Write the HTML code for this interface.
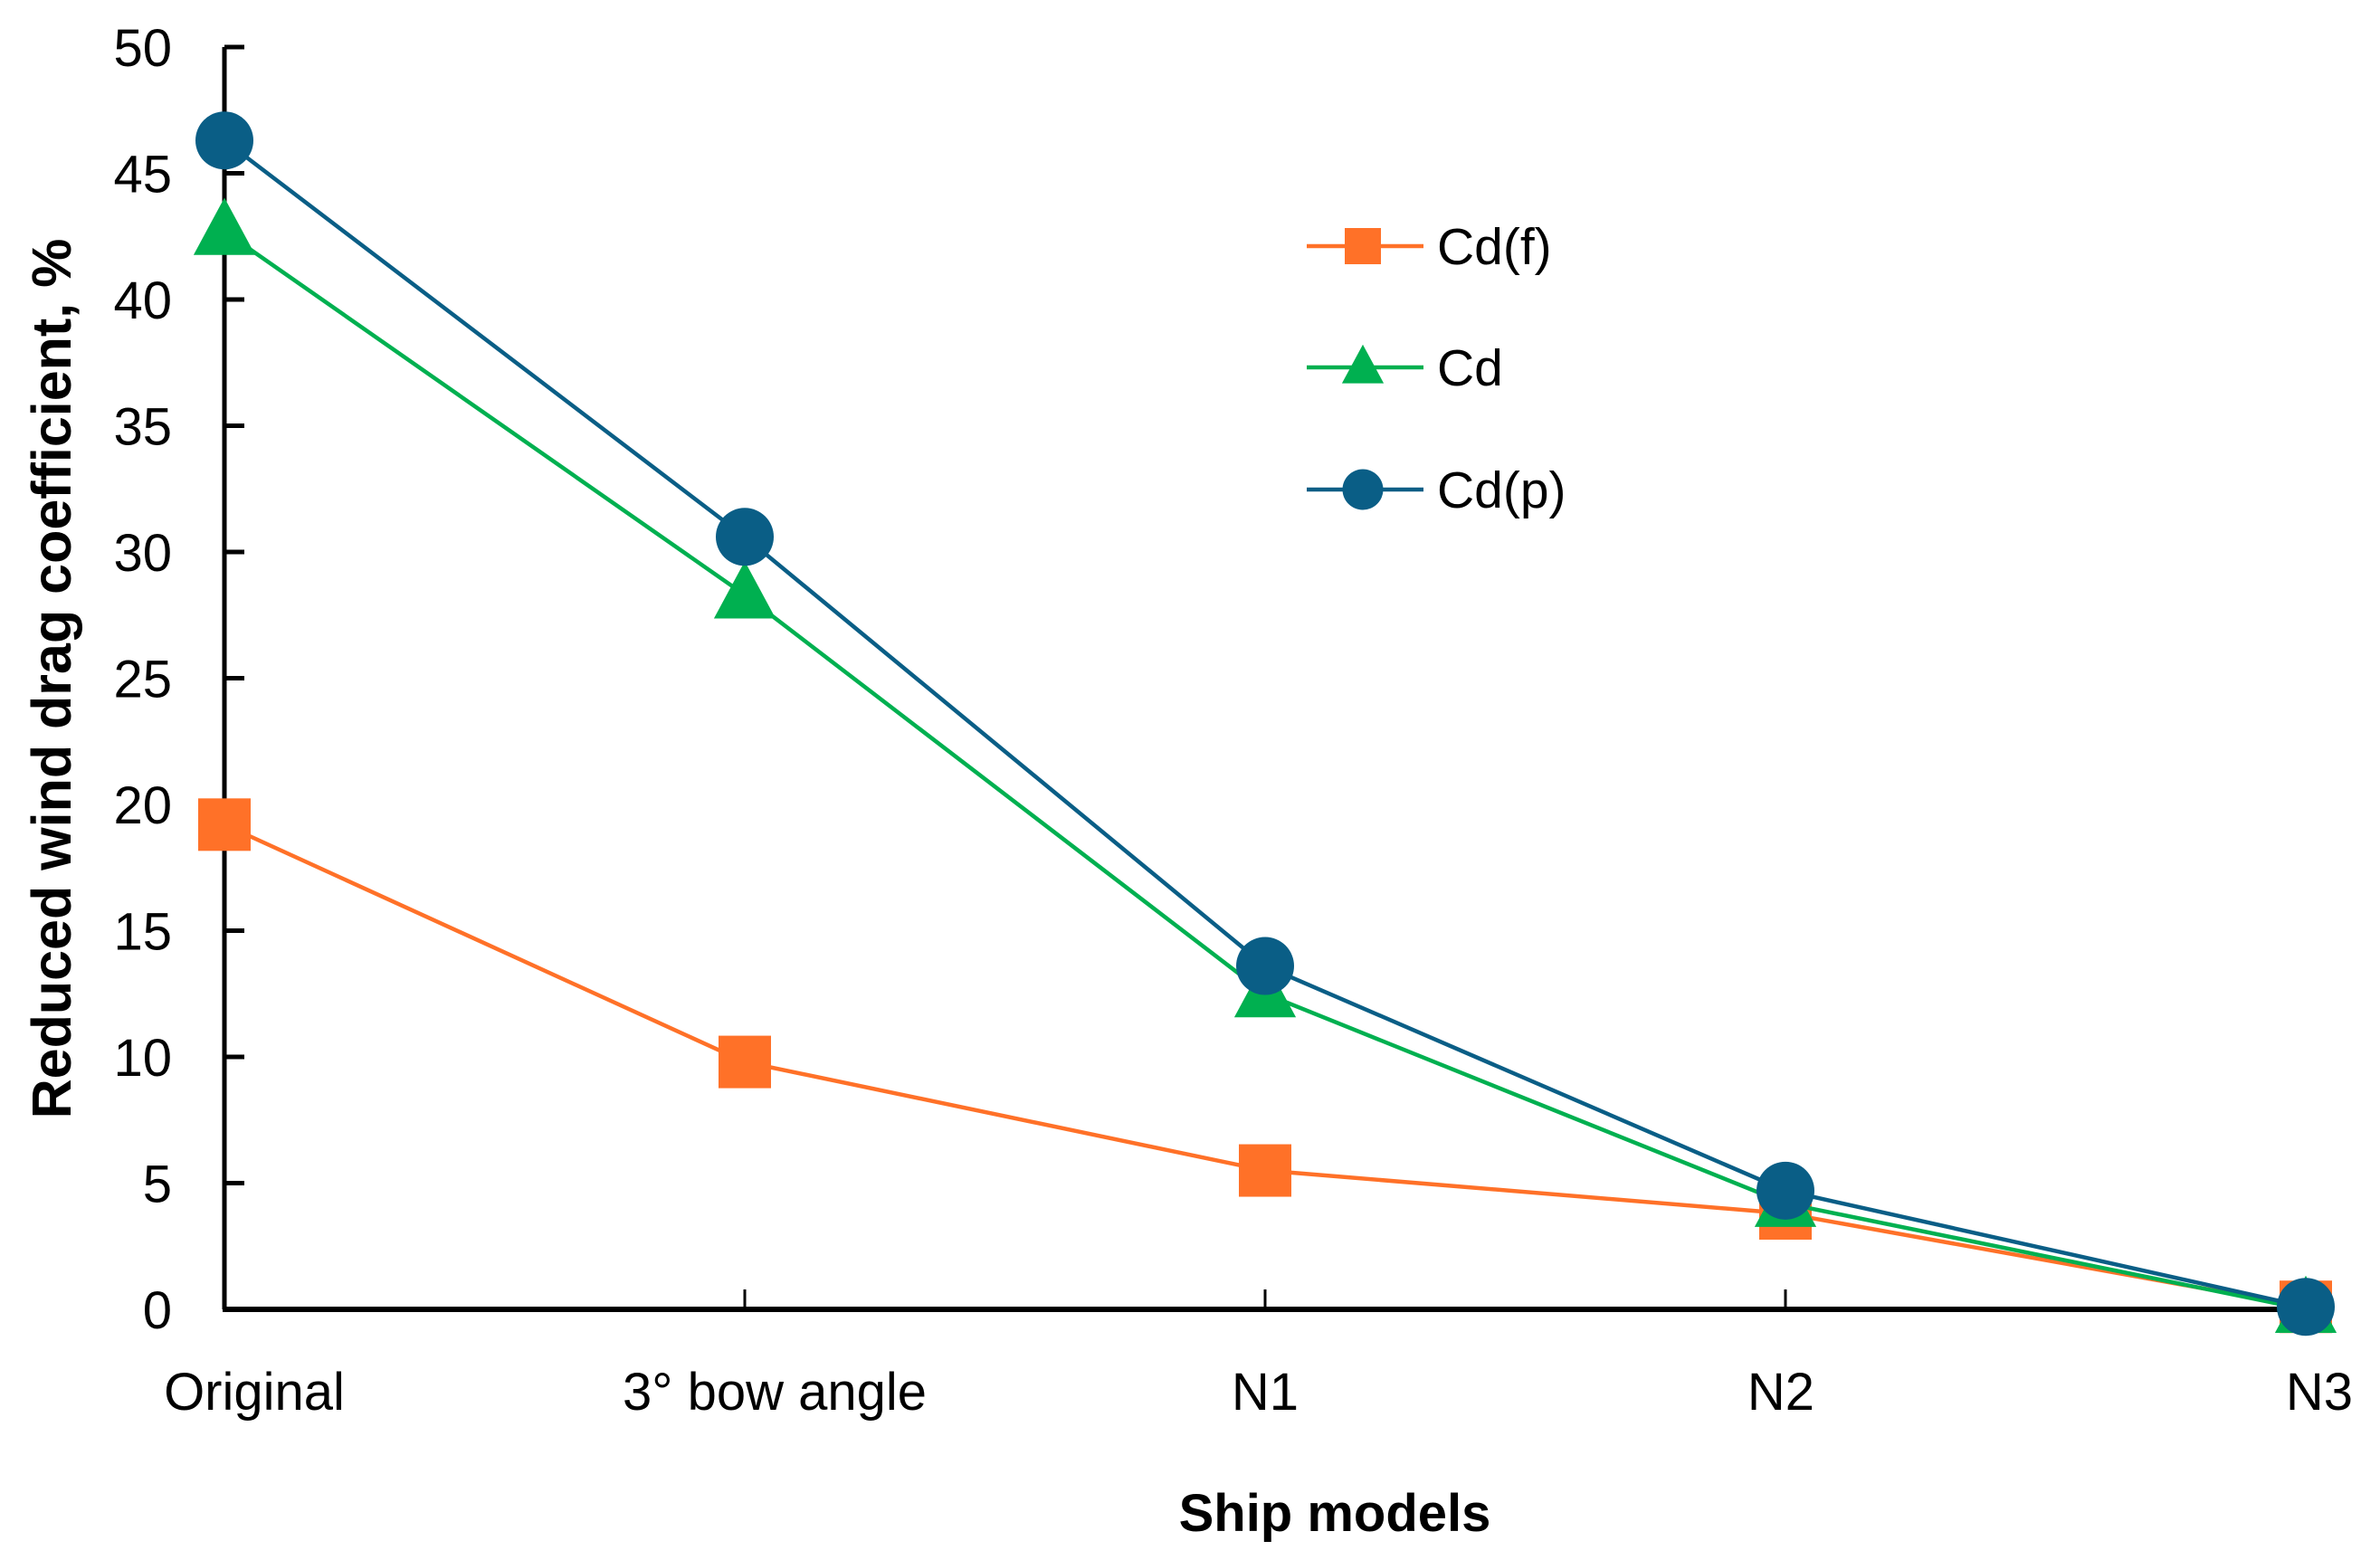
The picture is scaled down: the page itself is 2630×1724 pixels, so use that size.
<!DOCTYPE html>
<html><head><meta charset="utf-8"><style>
html,body{margin:0;padding:0;background:#fff}
svg{display:block}
text{font-family:"Liberation Sans",Arial,sans-serif;fill:#000}
</style></head><body>
<svg id="chart" width="2630" height="1724" viewBox="0 0 2630 1724">
<g id="axes"></g><g id="series"></g><g id="legend"></g>
</svg>
<script>
const categories = ["Original","3° bow angle","N1","N2","N3"];
const cdf = [19.2, 9.8, 5.5, 3.8, 0.1];
const cd = [42.7, 28.3, 12.5, 4.2, 0.0];
const cdp = [46.3, 30.6, 13.6, 4.7, 0.1];
const yTicks = [0,5,10,15,20,25,30,35,40,45,50];
const seriesNames = ["Cd(f)","Cd","Cd(p)"];

const NS="http://www.w3.org/2000/svg";
const X0=248, X1=2548, Y0=1447, Y1=52;
function xs(i){return X0+(X1-X0)*i/(categories.length-1);}
function ys(v){return Y0-(Y0-Y1)*v/50;}
function mk(tag,attrs,parent){const e=document.createElementNS(NS,tag);for(const k in attrs)e.setAttribute(k,attrs[k]);parent.appendChild(e);return e;}
const axes=document.getElementById('axes'), ser=document.getElementById('series'), leg=document.getElementById('legend');

let e=mk('line',{x1:X0,y1:Y1,x2:X0,y2:Y0,stroke:'#000','stroke-width':5},axes);


e=mk('line',{x1:X0-2,y1:Y0,x2:X1,y2:Y0,stroke:'#000','stroke-width':6},axes);


yTicks.forEach(v=>{
  let t=mk('line',{x1:X0,y1:ys(v),x2:X0+22,y2:ys(v),stroke:'#000','stroke-width':5},axes);
  
  
  let l=mk('text',{x:190,y:ys(v)+21,'text-anchor':'end','font-size':58},axes);
  l.textContent=v;
  
  
});
categories.forEach((c,i)=>{
  if(i>0&&i<categories.length-1){
    let t=mk('line',{x1:xs(i),y1:Y0,x2:xs(i),y2:Y0-22,stroke:'#000','stroke-width':3},axes);
    
    
  }
  const off=[33,33,0,-5,15][i]||0;
  let l=mk('text',{x:xs(i)+off,y:1558,'text-anchor':'middle','font-size':58},axes);
  l.textContent=c;
  
  
});
e=mk('text',{x:0,y:0,'text-anchor':'middle','font-size':61,'font-weight':'bold',transform:'translate(78,750) rotate(-90)'},axes);
e.textContent='Reduced wind drag coefficient, %';


e=mk('text',{x:1475,y:1692,'text-anchor':'middle','font-size':58,'font-weight':'bold'},axes);
e.textContent='Ship models';



const colors=['#FF7128','#00B050','#0A5E86'];
const data=[cdf,cd,cdp];
function marker(kind,x,y,s,col,parent){
  if(kind===0) return mk('rect',{x:x-s/2,y:y-s/2,width:s,height:s,fill:col},parent);
  if(kind===1) return mk('polygon',{points:`${x},${y-s*0.6} ${x+s*0.55},${y+s*0.42} ${x-s*0.55},${y+s*0.42}`,fill:col},parent);
  return mk('circle',{cx:x,cy:y,r:s/2,fill:col},parent);
}
data.forEach((arr,k)=>{
  const g=mk('g',{},ser);
  
  
  const p=mk('polyline',{points:arr.map((v,i)=>xs(i)+','+ys(v)).join(' '),fill:'none',stroke:colors[k],'stroke-width':4.5},g);
  
  
  arr.forEach((v,i)=>{
    const m=marker(k,xs(i),ys(v),[58,62,64][k],colors[k],g);
    
    
  });
});
const ly=[272,406,541];
seriesNames.forEach((n,k)=>{
  const g=mk('g',{},leg);
  
  
  mk('line',{x1:1444,y1:ly[k],x2:1573,y2:ly[k],stroke:colors[k],'stroke-width':4.5},g);
  marker(k,1506,ly[k],[40,42,45][k],colors[k],g);
  const t=mk('text',{x:1588,y:ly[k]+20,'font-size':57},g);
  t.textContent=n;
});
</script>
</body></html>
